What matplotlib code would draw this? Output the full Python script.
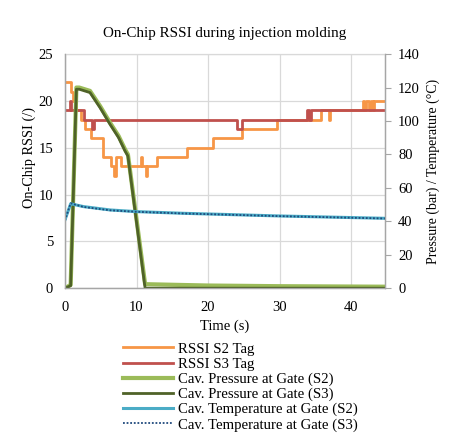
import matplotlib
matplotlib.use("Agg")
import matplotlib.pyplot as plt

plt.rcParams["font.family"] = ["Liberation Serif", "DejaVu Serif"]

# RSSI (left axis), step data
t_s2 = [0, 0.8, 1.1, 1.5, 2.3, 2.8, 3.7, 5.3, 6.5, 6.9, 7.1, 7.9, 10.6, 10.8, 11.3, 11.5,
        12.8, 17.0, 20.7, 24.8, 29.6, 35.8, 36.9, 37.1, 41.6, 41.8, 42.0, 42.5, 42.7,
        43.0, 43.2, 44.7]
rssi_s2 = [22, 21, 20, 19, 18, 17, 16, 14, 13, 12, 14, 13, 14, 13, 12, 13,
           14, 15, 16, 17, 18, 19, 18, 19, 20, 19, 20, 19, 20,
           19, 20, 20]
t_s3 = [0, 0.7, 0.9, 2.6, 3.8, 4.1, 24.0, 24.8, 33.8, 34.1, 34.4, 44.7]
rssi_s3 = [19, 20, 19, 18, 17, 18, 17, 18, 19, 18, 19, 19]

# cavity pressure (right axis)
t_p = [0, 0.8, 1.6, 2.0, 3.5, 4.9, 6.3, 7.5, 8.4, 8.8, 11.2, 20, 30, 44.7]
press_s2 = [0, 2, 120, 120, 118, 109, 99, 91, 83, 80, 2.4, 1.6, 1.2, 0.9]
press_s3 = [0, 1.5, 119, 119, 117, 108, 98, 90, 82, 79, 0, 0, 0, 0]

# cavity temperature (right axis)
t_t = [0, 0.8, 2.6, 6.3, 10, 16.5, 25, 30, 44.7]
temp_s2 = [40.8, 50.5, 48.8, 46.8, 45.8, 44.8, 43.8, 43.2, 41.8]
temp_s3 = [40.5, 50.8, 48.6, 46.6, 45.7, 44.7, 43.7, 43.1, 41.7]

GRID = "#d9d9d9"
SPINE = "#a6a6a6"

fig = plt.figure(figsize=(4.74, 4.40), dpi=100)
ax = fig.add_axes([0.137, 0.345, 0.675, 0.532])
ax2 = ax.twinx()

l1, = ax.plot(t_s2, rssi_s2, drawstyle="steps-post", color="#f79646", lw=2.0,
              label="RSSI S2 Tag")
l2, = ax.plot(t_s3, rssi_s3, drawstyle="steps-post", color="#c0504d", lw=2.0,
              label="RSSI S3 Tag")
l3, = ax2.plot(t_p, press_s2, color="#9bbb59", lw=3.0, label="Cav. Pressure at Gate (S2)")
l4, = ax2.plot(t_p, press_s3, color="#4f6228", lw=2.0, label="Cav. Pressure at Gate (S3)")
l5, = ax2.plot(t_t, temp_s2, color="#4bacc6", lw=2.2, label="Cav. Temperature at Gate (S2)")
l6, = ax2.plot(t_t, temp_s3, color="#1f497d", lw=1.3, ls=(0, (1, 1)),
               label="Cav. Temperature at Gate (S3)")

ax.set_xlim(0, 44.7)
ax.set_ylim(0, 25)
ax2.set_ylim(0, 140)
ax.set_xticks([0, 10, 20, 30, 40])
ax.set_yticks([0, 5, 10, 15, 20, 25])
ax2.set_yticks(range(0, 141, 20))
ax.grid(True, color=GRID, lw=0.9)
ax.set_axisbelow(True)

for a in (ax, ax2):
    for s in a.spines.values():
        s.set_color(SPINE)
        s.set_linewidth(0.9)
    a.spines["top"].set_visible(False)
ax.spines["top"].set_visible(True)
ax.spines["top"].set_color(GRID)
ax.tick_params(axis="y", length=0, labelsize=10.5, pad=8.5)
ax.tick_params(axis="x", length=0, labelsize=10.5, pad=9)
ax2.tick_params(axis="y", length=4, color=SPINE, labelsize=10.5, pad=5.5)

ax.set_xlabel("Time (s)", fontsize=10.5, labelpad=4)
ax.set_ylabel("On-Chip RSSI (/)", fontsize=10.3)
ax.yaxis.set_label_coords(-0.09, 0.56)
ax2.set_ylabel("Pressure (bar) / Temperature (°C)", fontsize=10, labelpad=5)
ax.set_title("On-Chip RSSI during injection molding", fontsize=10.9, pad=12)

fig.legend(handles=[l1, l2, l3, l4, l5, l6], loc="upper left",
           bbox_to_anchor=(0.26, 0.222), frameon=False, fontsize=10.6,
           handlelength=3.4, labelspacing=0.12, handletextpad=0.35,
           borderaxespad=0, borderpad=0)

fig.savefig("out.png", dpi=100, facecolor="white")
